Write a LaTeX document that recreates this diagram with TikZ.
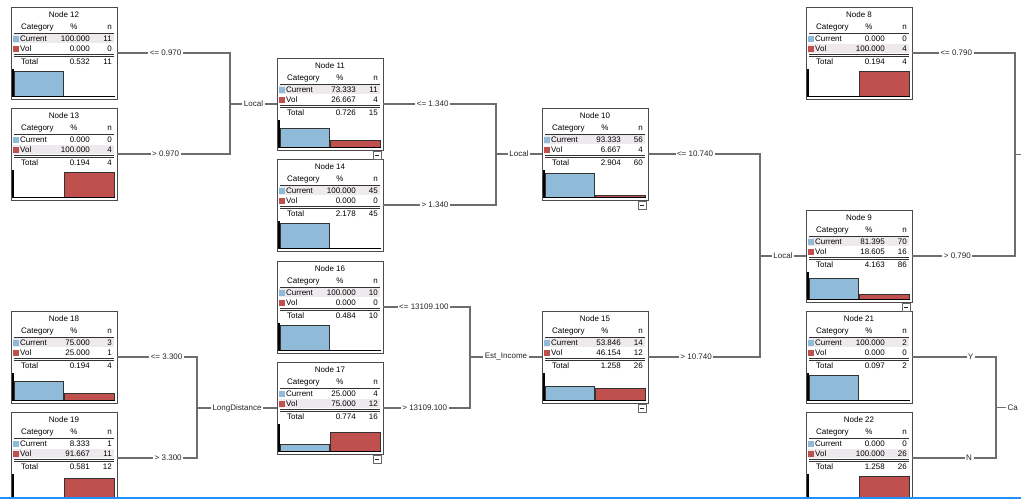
\documentclass[tikz,border=0pt]{standalone}
\usepackage{fontspec}
\setmainfont{Liberation Sans}
\usetikzlibrary{positioning}

\definecolor{barblue}{RGB}{143,186,216}
\definecolor{barred}{RGB}{192,80,77}
\definecolor{rowhl}{RGB}{238,233,237}
\definecolor{edgegray}{RGB}{110,110,110}
\definecolor{selblue}{RGB}{30,144,255}

\tikzset{
    treebox/.style={draw=black!70, line width=0.9pt, fill=white, anchor=north west,
        minimum width=106pt, minimum height=92pt, inner sep=0pt, outer sep=0pt},
    cell/.style={inner sep=0pt},
    edge/.style={draw=edgegray, line width=1.2pt},
    brlab/.style={fill=white, inner sep=1.5pt, text=black!85}
}

% rows and bars of a tree box: name, node no., Current % and n, Vol % and n, Total % and n
\newcommand{\boxrows}[8]{
    \begin{scope}[shift={(#1.north west)}]
        \pgfmathsetmacro\hly{#3>=#5 ? 27 : 37}
        \fill[rowhl] (2,\hly) rectangle (103,\hly+9);
        \node[cell, anchor=base] at (53,10) {Node #2};
        \node[cell, anchor=base west] at (10,22) {Category};
        \node[cell, anchor=base] at (63,22) {\%};
        \node[cell, anchor=base east] at (101,22) {n};
        \draw[black!80, line width=0.7pt] (3,26) -- (103,26);
        \fill[barblue] (2,29) rectangle (8,35);
        \node[cell, anchor=base west] at (9,34.5) {Current};
        \node[cell, anchor=base east] at (79,34.5) {#3};
        \node[cell, anchor=base east] at (101,34.5) {#4};
        \fill[barred] (2,39) rectangle (8,45);
        \node[cell, anchor=base west] at (9,44.5) {Vol};
        \node[cell, anchor=base east] at (79,44.5) {#5};
        \node[cell, anchor=base east] at (101,44.5) {#6};
        \draw[black!80, line width=0.6pt] (3,47.3) -- (103,47.3) (3,49.3) -- (103,49.3);
        \node[cell, anchor=base west] at (10,57) {Total};
        \node[cell, anchor=base east] at (79,57) {#7};
        \node[cell, anchor=base east] at (101,57) {#8};
        \pgfmathsetmacro\bh{#3/4}
        \pgfmathsetmacro\rh{#5/4}
        \filldraw[fill=barblue, draw=black!80, line width=0.6pt] (3,89) rectangle (52,89-\bh);
        \filldraw[fill=barred, draw=black!80, line width=0.6pt] (53,89) rectangle (103,89-\rh);
        \draw[black, line width=1.2pt] (2,62) -- (2,89.5) -- (104,89.5);
    \end{scope}
}

\newcommand{\collapsebtn}[1]{
    \draw[black!60, fill=white, line width=0.6pt] ([xshift=-10pt,yshift=-1pt]#1.south east) rectangle ++(8,8);
    \draw[black!85, line width=0.7pt] ([xshift=-8pt,yshift=-5pt]#1.south east) -- ++(4,0);
}

\begin{document}
\begin{tikzpicture}[x=1pt, y=-1pt, font=\fontsize{8pt}{9.5pt}\selectfont]
\useasboundingbox (0,0) rectangle (1021,501);
\begin{scope}
    \clip (0,0) rectangle (1021,497);

    % tree boxes
    \node[treebox] (n12) at (11,7) {};
    \node[treebox, below=9pt of n12] (n13) {};
    \node[treebox] (n11) at (277,58) {};
    \node[treebox, below=9pt of n11] (n14) {};
    \node[treebox] (n10) at (542,108) {};
    \node[treebox] (n8) at (806,7) {};
    \node[treebox] (n9) at (806,210) {};
    \node[treebox] (n18) at (11,311) {};
    \node[treebox, below=9pt of n18] (n19) {};
    \node[treebox] (n16) at (277,261) {};
    \node[treebox, below=9pt of n16] (n17) {};
    \node[treebox] (n15) at (542,311) {};
    \node[treebox] (n21) at (806,311) {};
    \node[treebox, below=9pt of n21] (n22) {};

    \boxrows{n12}{12}{100.000}{11}{0.000}{0}{0.532}{11}
    \boxrows{n13}{13}{0.000}{0}{100.000}{4}{0.194}{4}
    \boxrows{n11}{11}{73.333}{11}{26.667}{4}{0.726}{15}
    \boxrows{n14}{14}{100.000}{45}{0.000}{0}{2.178}{45}
    \boxrows{n10}{10}{93.333}{56}{6.667}{4}{2.904}{60}
    \boxrows{n8}{8}{0.000}{0}{100.000}{4}{0.194}{4}
    \boxrows{n9}{9}{81.395}{70}{18.605}{16}{4.163}{86}
    \boxrows{n18}{18}{75.000}{3}{25.000}{1}{0.194}{4}
    \boxrows{n19}{19}{8.333}{1}{91.667}{11}{0.581}{12}
    \boxrows{n16}{16}{100.000}{10}{0.000}{0}{0.484}{10}
    \boxrows{n17}{17}{25.000}{4}{75.000}{12}{0.774}{16}
    \boxrows{n15}{15}{53.846}{14}{46.154}{12}{1.258}{26}
    \boxrows{n21}{21}{100.000}{2}{0.000}{0}{0.097}{2}
    \boxrows{n22}{22}{0.000}{0}{100.000}{26}{1.258}{26}

    \collapsebtn{n11}
    \collapsebtn{n10}
    \collapsebtn{n9}
    \collapsebtn{n17}
    \collapsebtn{n15}

    % split points
    \coordinate[left=47pt of n11] (s11);
    \coordinate[left=46pt of n10] (s10);
    \coordinate[left=46pt of n9] (s9);
    \coordinate[left=80pt of n17] (s17);
    \coordinate[left=72pt of n15] (s15);
    \coordinate[right=103pt of n8] (t8);
    \coordinate[right=84pt of n21] (t21);

    % Local
    \draw[edge] (n12) -- node[brlab, pos=.43] {<= 0.970} (n12 -| s11) -- (n13 -| s11)
        -- node[brlab, pos=.57] {> 0.970} (n13);
    \draw[edge] (s11) -- node[brlab] {Local} (n11);
    \draw[edge] (n11) -- node[brlab, pos=.44] {<= 1.340} (n11 -| s10) -- (n14 -| s10)
        -- node[brlab, pos=.54] {> 1.340} (n14);
    \draw[edge] (s10) -- node[brlab] {Local} (n10);
    \draw[edge] (n10) -- node[brlab, pos=.42] {<= 10.740} (n10 -| s9) -- (n15 -| s9)
        -- node[brlab, pos=.57] {> 10.740} (n15);
    \draw[edge] (s9) -- node[brlab] {Local} (n9);
    \draw[edge] (n8) -- node[brlab, pos=.43] {<= 0.790} (t8) -- coordinate[pos=.5] (s8) (t8 |- n9)
        -- node[brlab, pos=.56] {> 0.790} (n9);
    \draw[edge] (s8) -- ++(20,0) coordinate (p8);

    % LongDistance, Est_Income
    \draw[edge] (n18) -- node[brlab, pos=.62] {<= 3.300} (n18 -| s17) -- (n19 -| s17)
        -- node[brlab, pos=.36] {> 3.300} (n19);
    \draw[edge] (s17) -- node[brlab] {LongDistance} (n17);
    \draw[edge] (n16) -- node[brlab, pos=.47] {<= 13109.100} (n16 -| s15) -- (n17 -| s15)
        -- node[brlab, pos=.52] {> 13109.100} (n17);
    \draw[edge] (s15) -- node[brlab] {Est\_Income} (n15);

    % last split, cut at the right edge
    \draw[edge] (n21) -- node[brlab, pos=.70] {Y} (t21) -- coordinate[pos=.5] (s21) (t21 |- n22)
        -- node[brlab, pos=.32] {N} (n22);
    \draw[edge] (s21) -- ++(10,0) node[brlab, anchor=west, inner xsep=1pt] (co) {Ca};
\end{scope}
\draw[selblue, line width=2pt] (0,498) -- (1021,498);
\end{tikzpicture}
\end{document}
